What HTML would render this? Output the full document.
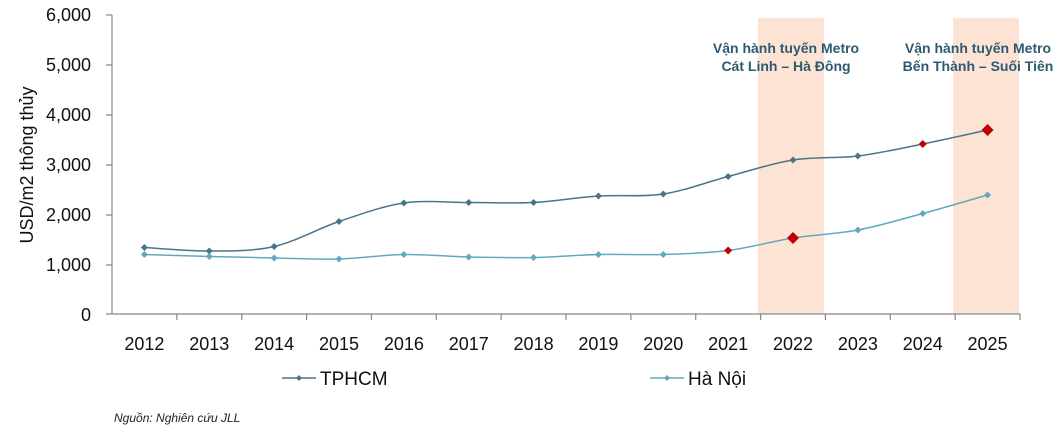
<!DOCTYPE html>
<html><head><meta charset="utf-8"><style>
body{margin:0;background:#fff;}
svg text{font-family:"Liberation Sans",sans-serif;}
</style></head><body>
<svg id="s" width="1062" height="434" xmlns="http://www.w3.org/2000/svg">
<rect x="758" y="18" width="66" height="296" fill="#fde3d4"/>
<rect x="953" y="18" width="66" height="296" fill="#fde3d4"/>
<g font-size="18" fill="#111" text-anchor="end">
<text x="91" y="21">6,000</text><text x="91" y="71">5,000</text><text x="91" y="121">4,000</text>
<text x="91" y="171">3,000</text><text x="91" y="221">2,000</text><text x="91" y="271">1,000</text>
<text x="91" y="321">0</text></g>
<text transform="translate(33,165) rotate(-90)" font-size="18" fill="#111" text-anchor="middle">USD/m2 thông thủy</text>
<g stroke="#888" stroke-width="1.2" id="ax">
<line x1="112" y1="15" x2="112" y2="314"/>
<line x1="106" y1="314" x2="1020" y2="314"/>
<line x1="106" y1="15" x2="112" y2="15"/><line x1="106" y1="65" x2="112" y2="65"/>
<line x1="106" y1="115" x2="112" y2="115"/><line x1="106" y1="165" x2="112" y2="165"/>
<line x1="106" y1="215" x2="112" y2="215"/><line x1="106" y1="265" x2="112" y2="265"/>
</g>
<g id="xl" font-size="18" fill="#111" text-anchor="middle"></g>
<g font-size="14" font-weight="bold" fill="#2d5a70" text-anchor="middle">
<text x="786" y="53">Vận hành tuyến Metro</text>
<text x="786" y="71">Cát Linh – Hà Đông</text>
<text x="978" y="53">Vận hành tuyến Metro</text>
<text x="978" y="71">Bến Thành – Suối Tiên</text></g>
<path id="p1" fill="none" stroke="#4a7589" stroke-width="1.5"/>
<path id="p2" fill="none" stroke="#62a9c0" stroke-width="1.5"/>
<g id="mk"></g>
<line x1="282" y1="378" x2="316" y2="378" stroke="#4a7589" stroke-width="1.5"/>
<path d="M299 375 L302 378 L299 381 L296 378Z" fill="#4a7589"/>
<text x="320" y="385" font-size="19" fill="#111">TPHCM</text>
<line x1="650" y1="378" x2="684" y2="378" stroke="#62a9c0" stroke-width="1.5"/>
<path d="M667 375 L670 378 L667 381 L664 378Z" fill="#62a9c0"/>
<text x="688" y="385" font-size="19" fill="#111">Hà Nội</text>
<text x="114" y="422" font-size="12" font-style="italic" fill="#222">Nguồn: Nghiên cứu JLL</text>
</svg>
<script>
var ns="http://www.w3.org/2000/svg",w=64.857,x0=112;
var h=[1330,1260,1350,1850,2220,2230,2230,2360,2400,2750,3080,3160,3400,3680];
var n=[1190,1150,1120,1100,1190,1140,1130,1190,1190,1270,1520,1680,2010,2380];
function X(i){return x0+w*(i+0.5);}function Y(v){return 314-v*0.05;}
var xl=document.getElementById('xl'),ax=document.getElementById('ax');
for(var i=0;i<14;i++){var t=document.createElementNS(ns,'text');t.setAttribute('x',X(i));t.setAttribute('y',350);t.textContent=2012+i;xl.appendChild(t);
var l=document.createElementNS(ns,'line');var xx=x0+w*(i+1);l.setAttribute('x1',xx);l.setAttribute('x2',xx);l.setAttribute('y1',314);l.setAttribute('y2',320);ax.appendChild(l);}
function path(a){var p=a.map(function(v,i){return[X(i),Y(v)]});var d='M'+p[0][0]+' '+p[0][1];
for(var i=0;i<p.length-1;i++){var a0=p[Math.max(i-1,0)],a1=p[i],a2=p[i+1],a3=p[Math.min(i+2,p.length-1)];
d+=' C'+(a1[0]+(a2[0]-a0[0])/6)+' '+(a1[1]+(a2[1]-a0[1])/6)+' '+(a2[0]-(a3[0]-a1[0])/6)+' '+(a2[1]-(a3[1]-a1[1])/6)+' '+a2[0]+' '+a2[1];}return d;}
document.getElementById('p1').setAttribute('d',path(h));
document.getElementById('p2').setAttribute('d',path(n));
var mk=document.getElementById('mk');
function m(i,v,c,r){var p=document.createElementNS(ns,'path');var x=X(i),y=Y(v);p.setAttribute('d','M'+x+' '+(y-r)+' L'+(x+r)+' '+y+' L'+x+' '+(y+r)+' L'+(x-r)+' '+y+'Z');p.setAttribute('fill',c);mk.appendChild(p);}
for(var i=0;i<14;i++){
if(i==12)m(i,h[i],'#c00000',4);else if(i==13)m(i,h[i],'#c00000',6);else m(i,h[i],'#4a7589',3.5);
if(i==9)m(i,n[i],'#c00000',4);else if(i==10)m(i,n[i],'#c00000',6);else m(i,n[i],'#62a9c0',3.5);}
</script>
</body></html>
